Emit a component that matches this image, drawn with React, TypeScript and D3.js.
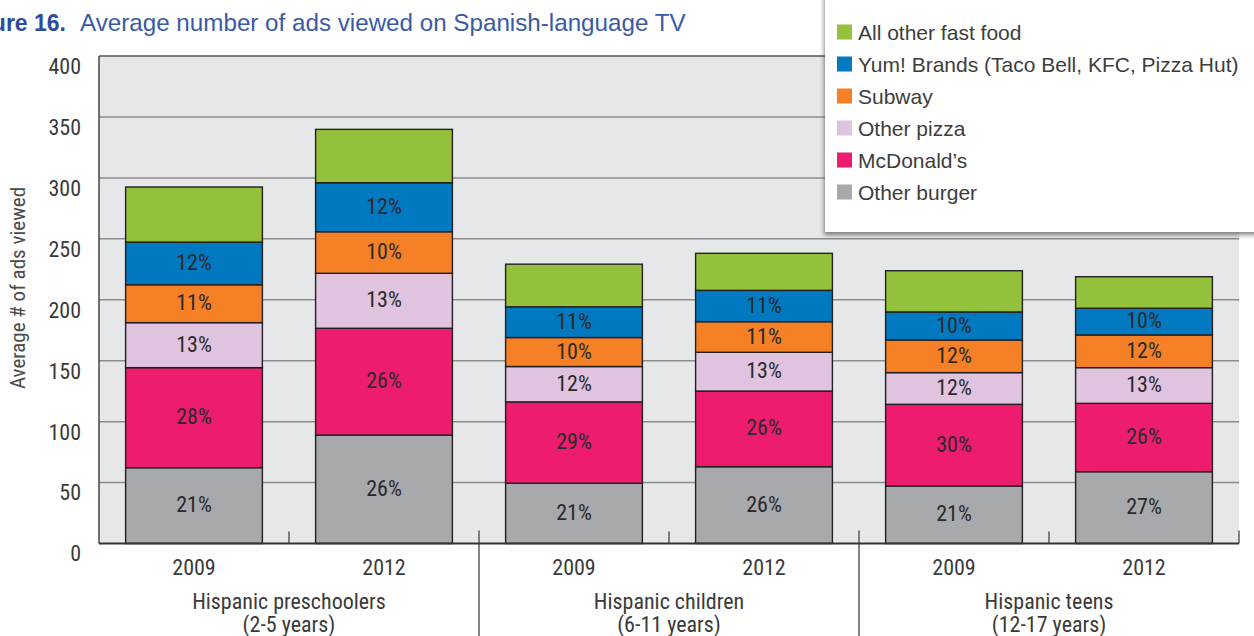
import React from "react";
import * as d3 from "d3";

const groups = ["Hispanic preschoolers", "Hispanic children", "Hispanic teens"];
const groupAges = ["(2-5 years)", "(6-11 years)", "(12-17 years)"];
const years = ["2009", "2012"];
const yTicks = [0, 50, 100, 150, 200, 250, 300, 350, 400];

// values per bar: preschool 2009, preschool 2012, children 2009, children 2012, teens 2009, teens 2012
const otherBurger = [62.2, 89.0, 49.5, 63.0, 47.2, 58.9];
const mcdonalds = [82.1, 87.6, 66.7, 62.1, 67.0, 56.1];
const otherPizza = [36.9, 45.1, 29.0, 31.8, 26.0, 29.3];
const subway = [31.1, 34.1, 23.8, 25.1, 26.8, 26.8];
const yumBrands = [35.0, 40.2, 25.2, 25.7, 23.0, 21.9];
const allOtherFastFood = [45.2, 43.8, 35.0, 30.4, 33.8, 25.9];

const otherBurgerPct = ["21%", "26%", "21%", "26%", "21%", "27%"];
const mcdonaldsPct = ["28%", "26%", "29%", "26%", "30%", "26%"];
const otherPizzaPct = ["13%", "13%", "12%", "13%", "12%", "13%"];
const subwayPct = ["11%", "10%", "10%", "11%", "12%", "12%"];
const yumBrandsPct = ["12%", "12%", "11%", "11%", "10%", "10%"];

const series = [
  { name: "Other burger", values: otherBurger, pct: otherBurgerPct, color: "#a7a9ac" },
  { name: "McDonald\u2019s", values: mcdonalds, pct: mcdonaldsPct, color: "#ed1c6e" },
  { name: "Other pizza", values: otherPizza, pct: otherPizzaPct, color: "#dfc3df" },
  { name: "Subway", values: subway, pct: subwayPct, color: "#f58025" },
  { name: "Yum! Brands (Taco Bell, KFC, Pizza Hut)", values: yumBrands, pct: yumBrandsPct, color: "#0079c1" },
  { name: "All other fast food", values: allOtherFastFood, pct: null as string[] | null, color: "#93c13b" },
];

const legendOrder = [...series].reverse();

const COND = "'Liberation Sans Narrow', 'Arial Narrow', 'Roboto Condensed', sans-serif";
const REG = "'Liberation Sans', Arial, Helvetica, sans-serif";

export default function App() {
  const W = 1254, H = 636;
  const left = 99, right = 1239, top = 56, bottom = 543.5;
  const keys = groups.flatMap((g) => years.map((y) => `${g}|${y}`));
  const x = d3.scaleBand<string>().domain(keys).range([left, right]).paddingInner(0.28).paddingOuter(0.14);
  const gx = d3.scaleBand<string>().domain(groups).range([left, right]);
  const y = d3.scaleLinear().domain([0, 400]).range([bottom, top]);

  const rows = keys.map((k, i) => {
    const r: Record<string, number | string> = { key: k };
    series.forEach((s, j) => (r["s" + j] = s.values[i]));
    return r;
  });
  const stack = d3.stack<Record<string, number | string>>().keys(series.map((_, j) => "s" + j))(rows as any);

  return (
    <svg width={W} height={H} style={{ position: "absolute", left: 0, top: 0, background: "#fff" }}>
      <defs>
        <filter id="shadow" x="-10%" y="-10%" width="120%" height="130%">
          <feDropShadow dx="-1" dy="3" stdDeviation="2" floodColor="#000" floodOpacity="0.45" />
        </filter>
      </defs>
      {/* title */}
      <text x={66} y={31} textAnchor="end" fontFamily={REG} fontWeight="bold" fontSize={23} fill="#2e4b9b">
        Figure 16.
      </text>
      <text x={80} y={31} fontFamily={REG} fontSize={24.2} fill="#3a5aa8">
        Average number of ads viewed on Spanish-language TV
      </text>

      {/* plot background */}
      <rect x={left} y={top} width={right - left} height={bottom - top} fill="#e6e7e8" />
      {yTicks.filter((t) => t > 0).map((t) => (
        <line key={t} x1={left} x2={right} y1={y(t)} y2={y(t)} stroke={t === 400 ? "#555" : "#8c8c8c"} strokeWidth={1.5} />
      ))}
      <line x1={left} x2={left} y1={top} y2={bottom} stroke="#444" strokeWidth={1.5} />

      {/* bars */}
      {stack.map((layer, j) =>
        layer.map((d, i) => {
          const k = keys[i];
          const y0 = y(d[0]), y1 = y(d[1]);
          const pct = series[j].pct;
          return (
            <g key={`${j}-${i}`}>
              <rect x={x(k)} y={y1} width={x.bandwidth()} height={y0 - y1} fill={series[j].color} stroke="#231f20" strokeWidth={1.4} />
              {pct && (
                <text x={(x(k) as number) + x.bandwidth() / 2} y={(y0 + y1) / 2} dy="0.3em" textAnchor="middle"
                  fontFamily={COND} fontSize={22} fill="#2a2a2a">
                  {pct[i]}
                </text>
              )}
            </g>
          );
        })
      )}

      {/* x axis */}
      <line x1={left} x2={right} y1={bottom} y2={bottom} stroke="#333" strokeWidth={2} />
      {groups.map((g, gi) => {
        const g0 = gx(g) as number;
        const mid = g0 + gx.bandwidth() / 2;
        return (
          <g key={g}>
            <line x1={mid} x2={mid} y1={bottom - 12} y2={bottom} stroke="#333" strokeWidth={1.2} />
            {gi < groups.length - 1 ? (
              <line x1={g0 + gx.bandwidth()} x2={g0 + gx.bandwidth()} y1={bottom - 13} y2={H} stroke="#333" strokeWidth={1.2} />
            ) : (
              <line x1={g0 + gx.bandwidth()} x2={g0 + gx.bandwidth()} y1={bottom - 13} y2={bottom} stroke="#333" strokeWidth={1.2} />
            )}
            <text x={mid} y={601} dy="0.36em" textAnchor="middle" fontFamily={COND} fontSize={22} fill="#3a3a3a">{g}</text>
            <text x={mid} y={624} dy="0.36em" textAnchor="middle" fontFamily={COND} fontSize={22} fill="#3a3a3a">{groupAges[gi]}</text>
          </g>
        );
      })}
      {keys.map((k) => (
        <text key={k} x={(x(k) as number) + x.bandwidth() / 2} y={567} dy="0.36em" textAnchor="middle"
          fontFamily={COND} fontSize={22} fill="#3a3a3a">
          {k.split("|")[1]}
        </text>
      ))}

      {/* y axis */}
      {yTicks.map((t) => (
        <text key={t} x={81} y={y(t) + 10} dy="0.36em" textAnchor="end" fontFamily={COND} fontSize={22} fill="#3a3a3a">
          {t}
        </text>
      ))}
      <text transform={`translate(25, 288) rotate(-90)`} textAnchor="middle" fontFamily={COND} fontSize={21} fill="#4a4a4a">
        Average # of ads viewed
      </text>

      {/* legend */}
      <rect x={825} y={-10} width={440} height={242} fill="#fff" filter="url(#shadow)" />
      {legendOrder.map((s, i) => (
        <g key={s.name} transform={`translate(837, ${32 + i * 32})`}>
          <rect x={0} y={-7.5} width={15} height={15} fill={s.color} />
          <text x={21} y={0} dy="0.36em" fontFamily={REG} fontSize={21} fill="#3d3d3d">{s.name}</text>
        </g>
      ))}
    </svg>
  );
}
